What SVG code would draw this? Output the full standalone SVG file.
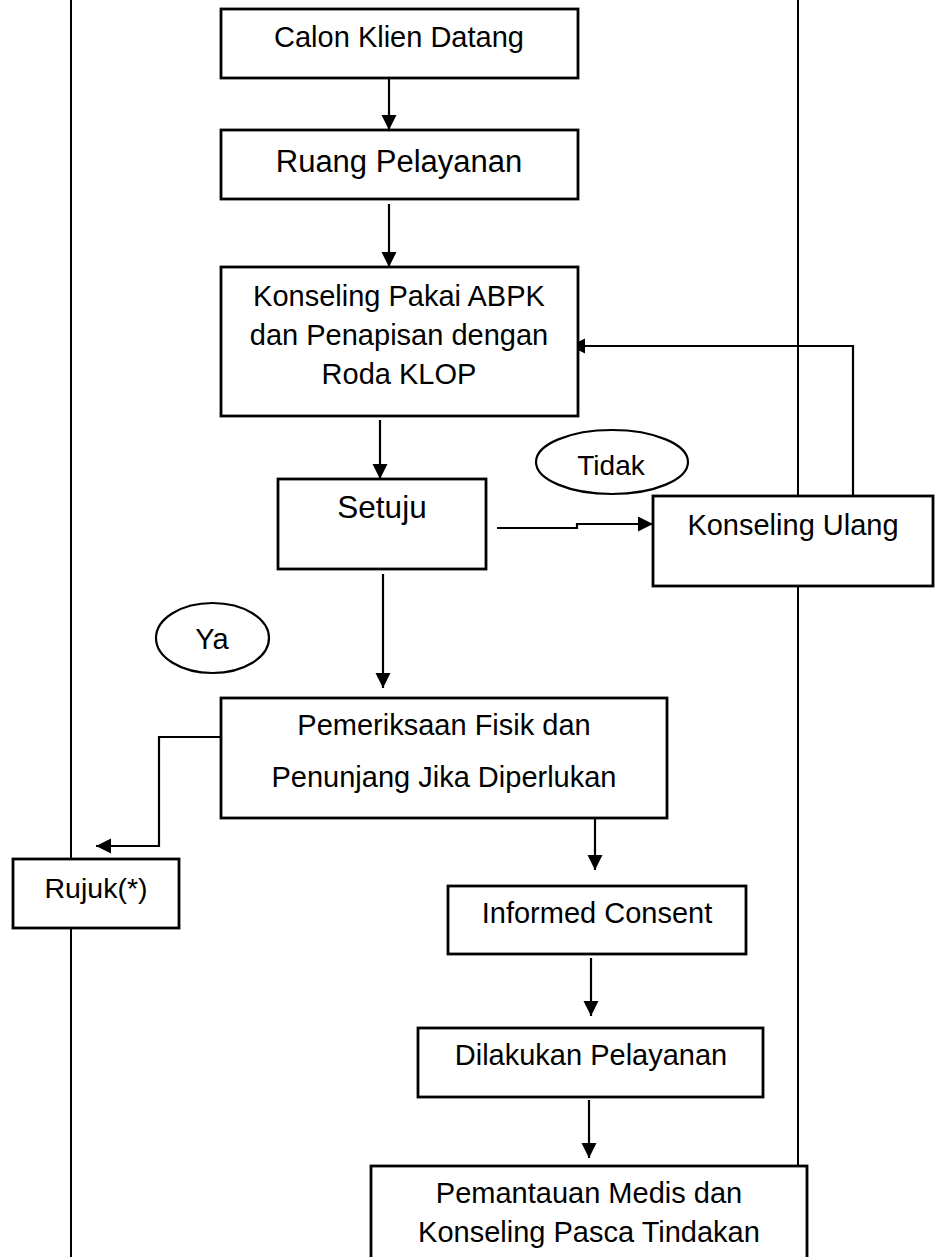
<svg xmlns="http://www.w3.org/2000/svg" width="941" height="1257" viewBox="0 0 941 1257">
<style>
.box{fill:#fff;stroke:#000;stroke-width:2.8}
.ell{fill:#fff;stroke:#000;stroke-width:2.2}
.lane{stroke:#000;stroke-width:2;fill:none}
.con{stroke:#000;stroke-width:2.2;fill:none;marker-end:url(#ah)}
text{font-family:"Liberation Sans",Arial,sans-serif;font-size:29px;fill:#000;text-anchor:middle}
</style>
<defs>
<marker id="ah" markerUnits="userSpaceOnUse" markerWidth="16" markerHeight="16" refX="15" refY="7.5" orient="auto">
<path d="M0,0 L15,7.5 L0,15 z" fill="#000"/>
</marker>
</defs>
<g id="lanes">
<line class="lane" x1="71" y1="0" x2="71" y2="1257"/>
<line class="lane" x1="798" y1="0" x2="798" y2="1166"/>
</g>
<g id="connectors">
<path class="con" d="M389,78 V130"/>
<path class="con" d="M389,204 V267"/>
<path class="con" d="M380,420 V479"/>
<path class="con" d="M497,528 H577 V524 H653"/>
<path class="con" d="M853,496 V346 H570"/>
<path class="con" d="M383,574 V688"/>
<path class="con" d="M221,737 H159 V846 H96"/>
<path class="con" d="M595,812 V870"/>
<path class="con" d="M591,958 V1016"/>
<path class="con" d="M589,1100 V1158"/>
</g>
<g id="n-calon">
<rect class="box" x="221" y="9" width="357" height="69"/>
<text x="399" y="47">Calon Klien Datang</text>
</g>
<g id="n-ruang">
<rect class="box" x="221" y="130" width="357" height="69"/>
<text x="399" y="172" style="font-size:31px">Ruang Pelayanan</text>
</g>
<g id="n-konseling">
<rect class="box" x="221" y="267" width="357" height="149"/>
<text x="399" y="306">Konseling Pakai ABPK</text>
<text x="399" y="345">dan Penapisan dengan</text>
<text x="399" y="384">Roda KLOP</text>
</g>
<g id="n-setuju">
<rect class="box" x="278" y="479" width="208" height="90"/>
<text x="382" y="518" style="font-size:31.5px">Setuju</text>
</g>
<g id="n-tidak">
<ellipse class="ell" cx="612" cy="462" rx="76" ry="32"/>
<text x="611" y="475" style="font-size:28px">Tidak</text>
</g>
<g id="n-konseling-ulang">
<rect class="box" x="653" y="496" width="280" height="90"/>
<text x="793" y="535">Konseling Ulang</text>
</g>
<g id="n-ya">
<ellipse class="ell" cx="212.5" cy="638" rx="56.5" ry="35"/>
<text x="212" y="649">Ya</text>
</g>
<g id="n-pemeriksaan">
<rect class="box" x="221" y="698" width="446" height="120"/>
<text x="444" y="735">Pemeriksaan Fisik dan</text>
<text x="444" y="787">Penunjang Jika Diperlukan</text>
</g>
<g id="n-rujuk">
<rect class="box" x="13" y="859" width="166" height="69"/>
<text x="96" y="898" style="font-size:28.5px">Rujuk(*)</text>
</g>
<g id="n-informed">
<rect class="box" x="448" y="886" width="298" height="68"/>
<text x="597" y="923">Informed Consent</text>
</g>
<g id="n-dilakukan">
<rect class="box" x="418" y="1028" width="345" height="69"/>
<text x="591" y="1065">Dilakukan Pelayanan</text>
</g>
<g id="n-pemantauan">
<rect class="box" x="371" y="1166" width="436" height="110"/>
<text x="589" y="1203">Pemantauan Medis dan</text>
<text x="589" y="1242">Konseling Pasca Tindakan</text>
</g>
</svg>
